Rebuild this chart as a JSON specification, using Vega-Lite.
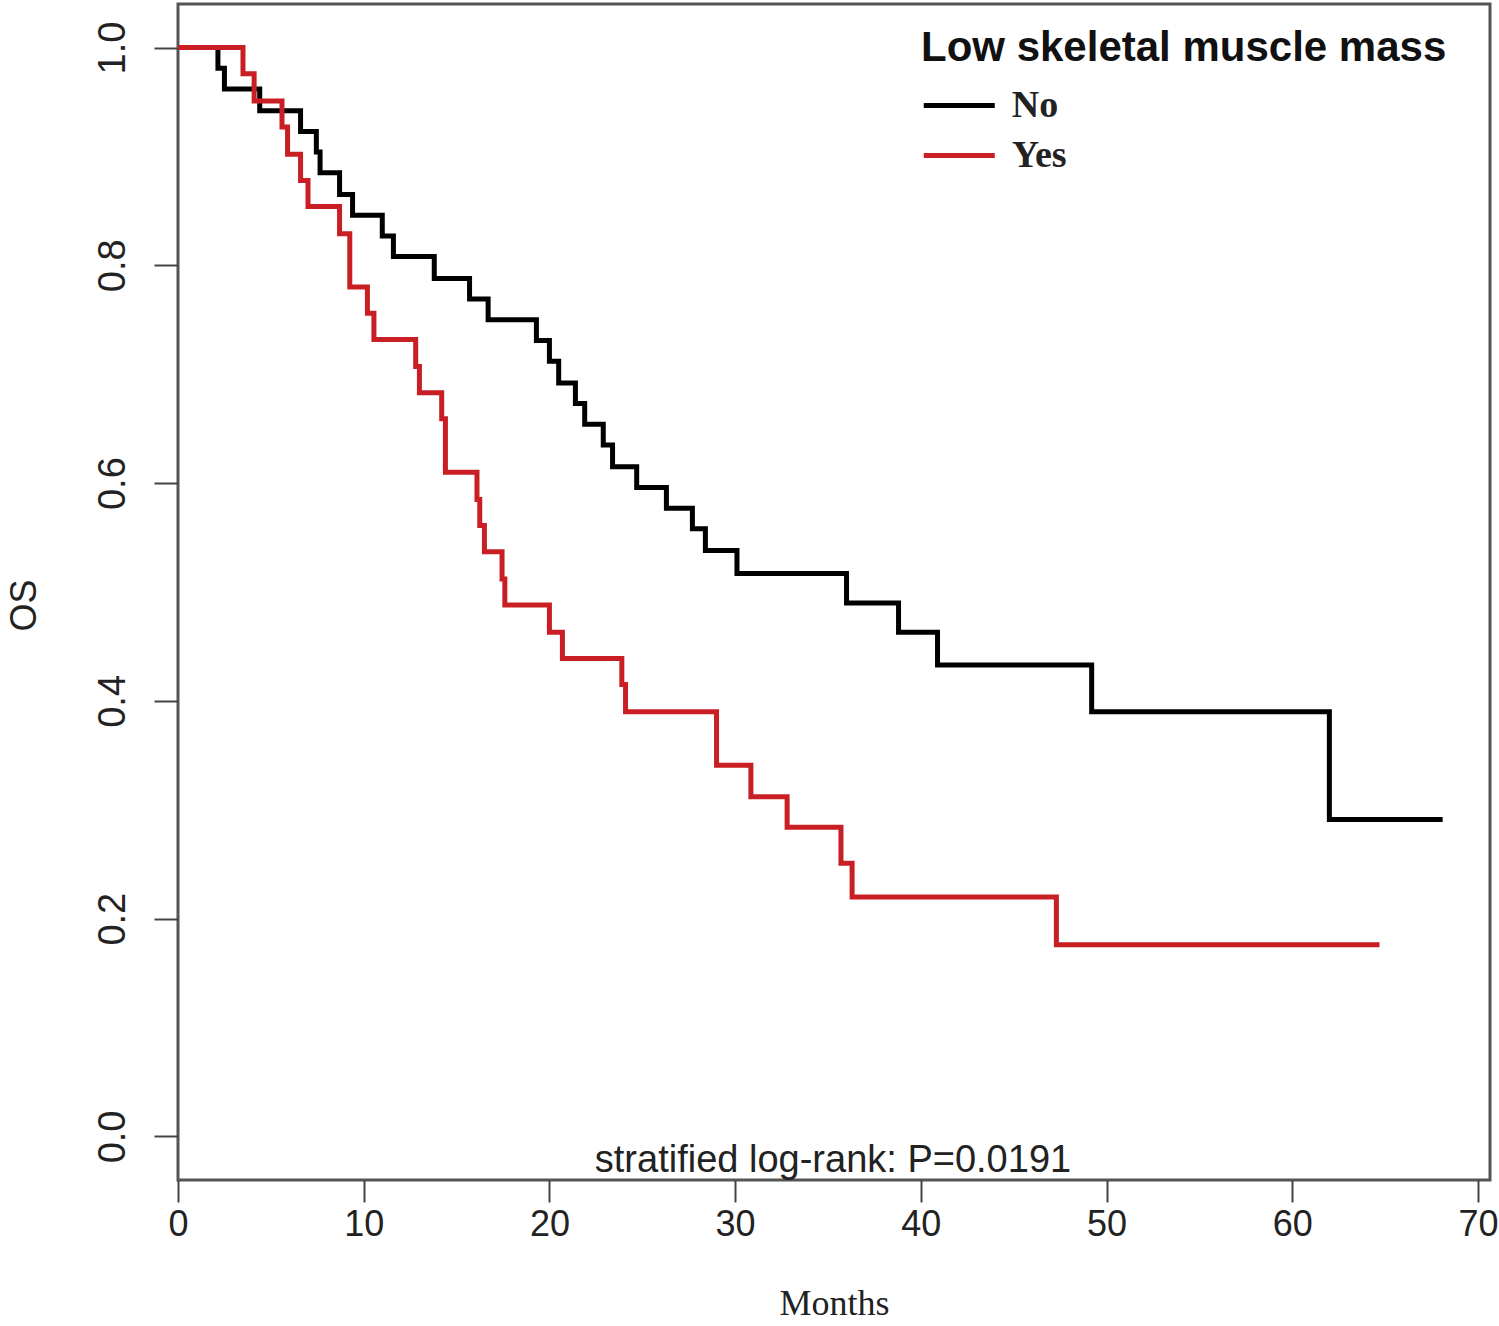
{
  "$schema": "https://vega.github.io/schema/vega-lite/v6.json",
  "width": 1312,
  "height": 1176,
  "padding": {"left": 178, "top": 4, "right": 9, "bottom": 146},
  "autosize": {"type": "none"},
  "background": "white",
  "config": {
    "view": {"stroke": "#555", "strokeWidth": 3},
    "axis": {"grid": false}
  },
  "layer": [
    {
      "data": {
        "values": [
          {"group": "No", "time": 0, "surv": 1.0},
          {"group": "No", "time": 2.15, "surv": 0.981},
          {"group": "No", "time": 2.5, "surv": 0.962},
          {"group": "No", "time": 4.4, "surv": 0.942},
          {"group": "No", "time": 6.6, "surv": 0.923},
          {"group": "No", "time": 7.45, "surv": 0.904},
          {"group": "No", "time": 7.65, "surv": 0.885},
          {"group": "No", "time": 8.7, "surv": 0.865},
          {"group": "No", "time": 9.4, "surv": 0.846},
          {"group": "No", "time": 11.0, "surv": 0.827},
          {"group": "No", "time": 11.6, "surv": 0.808},
          {"group": "No", "time": 13.8, "surv": 0.788},
          {"group": "No", "time": 15.7, "surv": 0.769},
          {"group": "No", "time": 16.7, "surv": 0.750},
          {"group": "No", "time": 19.3, "surv": 0.731},
          {"group": "No", "time": 20.0, "surv": 0.712},
          {"group": "No", "time": 20.5, "surv": 0.692},
          {"group": "No", "time": 21.4, "surv": 0.673},
          {"group": "No", "time": 21.9, "surv": 0.654},
          {"group": "No", "time": 22.9, "surv": 0.635},
          {"group": "No", "time": 23.4, "surv": 0.615},
          {"group": "No", "time": 24.7, "surv": 0.596},
          {"group": "No", "time": 26.3, "surv": 0.577},
          {"group": "No", "time": 27.7, "surv": 0.558},
          {"group": "No", "time": 28.4, "surv": 0.538},
          {"group": "No", "time": 30.1, "surv": 0.517},
          {"group": "No", "time": 36.0, "surv": 0.490},
          {"group": "No", "time": 38.8, "surv": 0.463},
          {"group": "No", "time": 40.9, "surv": 0.433},
          {"group": "No", "time": 49.2, "surv": 0.390},
          {"group": "No", "time": 62.0, "surv": 0.291},
          {"group": "No", "time": 68.1, "surv": 0.291},
          {"group": "Yes", "time": 0, "surv": 1.0},
          {"group": "Yes", "time": 3.5, "surv": 0.976},
          {"group": "Yes", "time": 4.1, "surv": 0.951},
          {"group": "Yes", "time": 5.6, "surv": 0.927},
          {"group": "Yes", "time": 5.9, "surv": 0.902},
          {"group": "Yes", "time": 6.6, "surv": 0.878},
          {"group": "Yes", "time": 7.0, "surv": 0.854},
          {"group": "Yes", "time": 8.7, "surv": 0.829},
          {"group": "Yes", "time": 9.25, "surv": 0.780},
          {"group": "Yes", "time": 10.2, "surv": 0.756},
          {"group": "Yes", "time": 10.55, "surv": 0.732},
          {"group": "Yes", "time": 12.8, "surv": 0.707},
          {"group": "Yes", "time": 13.0, "surv": 0.683},
          {"group": "Yes", "time": 14.2, "surv": 0.659},
          {"group": "Yes", "time": 14.4, "surv": 0.610},
          {"group": "Yes", "time": 16.1, "surv": 0.585},
          {"group": "Yes", "time": 16.25, "surv": 0.561},
          {"group": "Yes", "time": 16.5, "surv": 0.537},
          {"group": "Yes", "time": 17.45, "surv": 0.512},
          {"group": "Yes", "time": 17.6, "surv": 0.488},
          {"group": "Yes", "time": 20.0, "surv": 0.463},
          {"group": "Yes", "time": 20.7, "surv": 0.439},
          {"group": "Yes", "time": 23.9, "surv": 0.415},
          {"group": "Yes", "time": 24.1, "surv": 0.390},
          {"group": "Yes", "time": 29.0, "surv": 0.341},
          {"group": "Yes", "time": 30.85, "surv": 0.312},
          {"group": "Yes", "time": 32.8, "surv": 0.284},
          {"group": "Yes", "time": 35.7, "surv": 0.251},
          {"group": "Yes", "time": 36.3, "surv": 0.220},
          {"group": "Yes", "time": 47.3, "surv": 0.176},
          {"group": "Yes", "time": 64.7, "surv": 0.176}
        ]
      },
      "mark": {"type": "line", "interpolate": "step-after", "strokeWidth": 5, "clip": true},
      "encoding": {
        "x": {
          "field": "time",
          "type": "quantitative",
          "scale": {"domain": [0, 70.65], "nice": false, "zero": false},
          "axis": {
            "values": [0, 10, 20, 30, 40, 50, 60, 70],
            "tickSize": 22,
            "tickWidth": 2,
            "tickColor": "#444",
            "domain": false,
            "labelFont": "Liberation Sans",
            "labelFontSize": 36,
            "labelColor": "#222",
            "labelPadding": 5,
            "labelFlush": false,
            "title": "Months",
            "titleFont": "Liberation Serif",
            "titleFontSize": 36,
            "titleFontWeight": "normal",
            "titleColor": "#222",
            "titleBaseline": "top",
            "titleY": 106
          }
        },
        "y": {
          "field": "surv",
          "type": "quantitative",
          "scale": {"domain": [-0.04, 1.04], "nice": false, "zero": false},
          "axis": {
            "values": [0, 0.2, 0.4, 0.6, 0.8, 1],
            "format": ".1f",
            "tickSize": 24,
            "tickWidth": 2,
            "tickColor": "#444",
            "domain": false,
            "labelAngle": 270,
            "labelAlign": "center",
            "labelBaseline": "alphabetic",
            "labelPadding": 30,
            "labelFont": "Liberation Sans",
            "labelFontSize": 38,
            "labelColor": "#222",
            "title": "OS",
            "titleFont": "Liberation Sans",
            "titleFontSize": 36,
            "titleFontWeight": "normal",
            "titleColor": "#222",
            "titleAngle": 270,
            "titleAlign": "center",
            "titleBaseline": "alphabetic",
            "titleX": -143,
            "titleY": 601
          }
        },
        "color": {
          "field": "group",
          "type": "nominal",
          "scale": {"domain": ["No", "Yes"], "range": ["#000000", "#c81e24"]},
          "legend": {
            "title": "Low skeletal muscle mass",
            "orient": "none",
            "legendX": 743,
            "legendY": 24,
            "padding": 0,
            "titleFont": "Liberation Sans",
            "titleFontSize": 42,
            "titleFontWeight": "bold",
            "titleColor": "#111",
            "titleLimit": 2000,
            "titlePadding": 15,
            "labelFont": "Liberation Serif",
            "labelFontSize": 38,
            "labelFontWeight": "bold",
            "labelColor": "#222",
            "labelLimit": 500,
            "symbolType": "M-2,0H2",
            "symbolSize": 1260,
            "symbolStrokeWidth": 5,
            "symbolOffset": 17.75,
            "labelOffset": 32,
            "rowPadding": 10
          }
        }
      }
    },
    {
      "data": {"values": [{"x": 35.27, "y": -0.033, "label": "stratified log-rank: P=0.0191"}]},
      "mark": {"type": "text", "font": "Liberation Sans", "fontSize": 38, "baseline": "alphabetic", "align": "center", "color": "#222"},
      "encoding": {
        "x": {"field": "x", "type": "quantitative"},
        "y": {"field": "y", "type": "quantitative"},
        "text": {"field": "label"}
      }
    }
  ]
}
